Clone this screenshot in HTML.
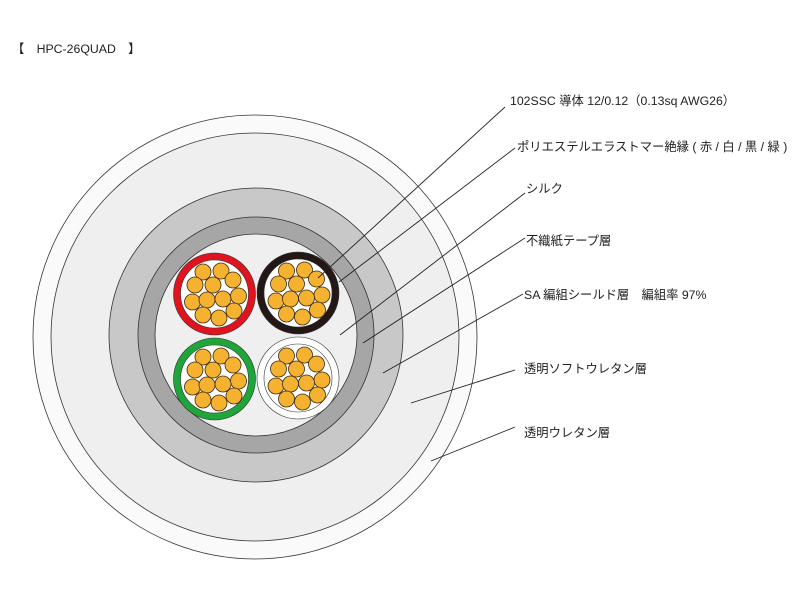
<!DOCTYPE html>
<html><head><meta charset="utf-8"><style>
html,body{margin:0;padding:0;background:#fff;}
svg{display:block}
text{font-family:"Liberation Sans","Noto Sans CJK JP",sans-serif;font-size:12.3px;fill:#222;}
</style></head><body>
<svg width="800" height="600" viewBox="0 0 800 600" xmlns="http://www.w3.org/2000/svg">
<defs>
<g id="strands" stroke="#3a2a10" stroke-width="0.8" fill="#f5b130">
<circle cx="-11.5" cy="-22" r="8"/><circle cx="6.5" cy="-23" r="8"/><circle cx="18.5" cy="-14" r="8"/>
<circle cx="-19.5" cy="-9" r="8"/><circle cx="-1.5" cy="-9" r="8"/><circle cx="24" cy="2" r="8"/>
<circle cx="-22" cy="8" r="8"/><circle cx="-7.5" cy="6" r="8"/><circle cx="8.5" cy="5" r="8"/>
<circle cx="19.5" cy="17" r="8"/><circle cx="-11.5" cy="21" r="8"/><circle cx="4.5" cy="24" r="8"/>
</g>
</defs>
<text x="12" y="53">【　HPC-26QUAD　】</text>
<circle cx="255" cy="337" r="222" fill="#fafafa" stroke="#333" stroke-width="0.8"/>
<circle cx="255" cy="337" r="204" fill="#efefef" stroke="#333" stroke-width="0.8"/>
<circle cx="256" cy="335" r="147" fill="#c8c8c8" stroke="#333" stroke-width="0.8"/>
<circle cx="256" cy="335" r="118" fill="#a6a6a6" stroke="#333" stroke-width="0.8"/>
<circle cx="256" cy="335" r="101" fill="#efefef" stroke="#333" stroke-width="0.8"/>
<g stroke="#333" stroke-width="0.6">
<circle cx="214.5" cy="294" r="41" fill="#e0141e"/>
<circle cx="214.5" cy="294" r="34" fill="#fff"/>
<circle cx="298" cy="293" r="41" fill="#231815"/>
<circle cx="298" cy="293" r="34" fill="#fff"/>
<circle cx="214.5" cy="379" r="41" fill="#1fa53a"/>
<circle cx="214.5" cy="379" r="34" fill="#fff"/>
<circle cx="298" cy="378" r="41" fill="#fff"/>
<circle cx="298" cy="378" r="34" fill="#fff"/>
</g>
<use href="#strands" x="214.5" y="294"/>
<use href="#strands" x="298" y="293"/>
<use href="#strands" x="214.5" y="379"/>
<use href="#strands" x="298" y="378"/>
<g stroke="#222" stroke-width="0.9">
<line x1="318" y1="278" x2="505" y2="107"/>
<line x1="339" y1="282" x2="515" y2="148"/>
<line x1="340" y1="335" x2="525" y2="193"/>
<line x1="363" y1="343" x2="525" y2="238"/>
<line x1="383" y1="373" x2="523" y2="294"/>
<line x1="411" y1="403" x2="515" y2="370"/>
<line x1="431" y1="461" x2="515" y2="427"/>
</g>
<text x="510" y="105">102SSC 導体 12/0.12（0.13sq AWG26）</text>
<text x="517" y="151">ポリエステルエラストマー絶縁 ( 赤 / 白 / 黒 / 緑 )</text>
<text x="526" y="193">シルク</text>
<text x="526" y="245">不織紙テープ層</text>
<text x="524" y="299">SA 編組シールド層　編組率 97%</text>
<text x="524" y="373">透明ソフトウレタン層</text>
<text x="524" y="437">透明ウレタン層</text>
</svg>
</body></html>
